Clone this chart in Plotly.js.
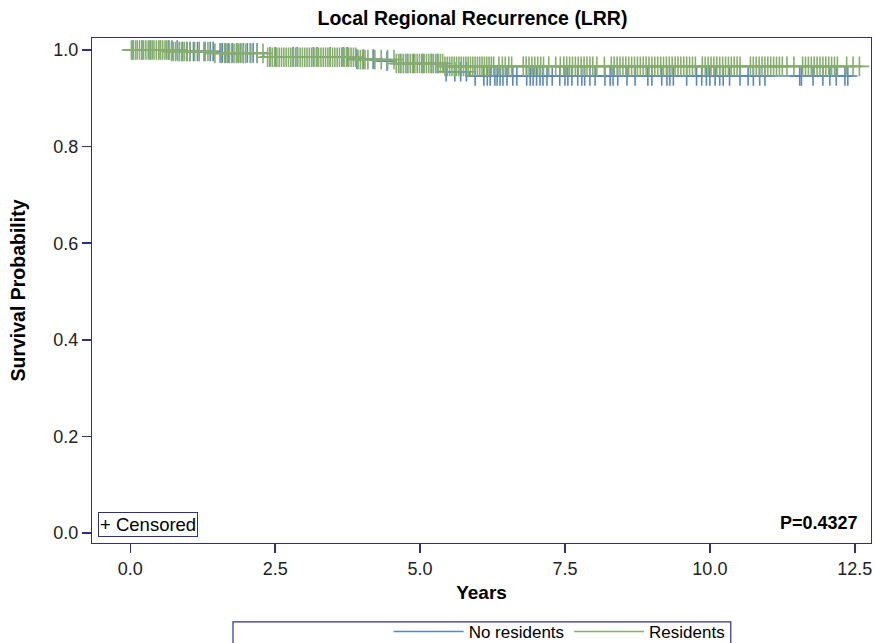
<!DOCTYPE html>
<html>
<head>
<meta charset="utf-8">
<script src="https://cdn.plot.ly/plotly-3.0.1.min.js"></script>
<style>html,body{margin:0;padding:0;background:#fff;}#chart{width:875px;height:643px;}</style>
</head>
<body>
<div id="chart"></div>
<script>
// Kaplan-Meier step data (time in years, survival probability)
const noResTimes = [0, 0.9, 1.5, 2.3, 3.75, 4.2, 4.57, 5.4, 5.85, 12.47];
const noResSurv  = [1.0, 0.997, 0.994, 0.986, 0.981, 0.977, 0.972, 0.955, 0.946, 0.946];
const resTimes   = [0, 0.7, 1.4, 2.3, 3.9, 4.57, 5.4, 12.62];
const resSurv    = [1.0, 0.997, 0.993, 0.985, 0.980, 0.972, 0.966, 0.966];

// Censoring times
const noResCensor = [0.05,0.2,0.35,0.52,0.66,0.72,0.81,0.9,0.98,1.03,1.09,1.16,1.29,1.38,1.43,1.55,1.59,1.64,1.69,1.76,1.84,1.9,1.95,2.02,2.07,2.12,2.19,2.41,2.5,2.81,2.88,3.16,3.22,3.45,3.67,3.74,3.91,4.02,4.19,4.43,4.66,4.78,4.88,5.05,5.2,5.3,5.45,5.6,5.7,5.8,5.95,6.1,6.16,6.21,6.29,6.33,6.38,6.43,6.5,6.6,6.67,6.84,6.9,6.95,7.01,7.07,7.12,7.19,7.28,7.41,7.5,7.55,7.62,7.72,7.79,7.84,7.93,8.02,8.19,8.28,8.33,8.41,8.57,8.71,8.93,9.0,9.17,9.26,9.31,9.37,9.6,9.77,9.86,9.94,10.0,10.09,10.17,10.23,10.34,10.52,10.66,10.75,10.86,10.95,11.55,11.58,11.78,11.95,12.07,12.18,12.33,12.38];
const resCensor = [0.02,0.05,0.09,0.12,0.16,0.2,0.23,0.27,0.31,0.34,0.38,0.41,0.45,0.49,0.52,0.56,0.6,0.63,0.67,0.71,0.74,0.78,0.82,0.85,0.89,0.93,0.97,
1.03,1.11,1.19,1.27,1.34,1.46,1.57,
1.63,1.67,1.71,1.75,1.79,1.83,1.87,1.91,1.95,1.99,
2.08,2.19,2.29,
2.37,2.41,2.45,2.49,2.53,2.57,2.61,2.65,2.69,2.73,2.77,2.81,2.85,2.89,2.93,2.97,3.01,3.05,3.09,3.13,3.17,3.21,3.25,3.29,3.33,3.37,3.41,3.45,3.49,3.53,3.57,3.61,3.65,3.69,3.73,3.77,3.81,3.85,3.89,3.93,3.97,4.01,4.05,4.1,
4.22,4.33,4.44,
4.55,4.59,4.63,4.67,4.71,4.75,4.79,4.83,4.87,4.91,4.95,4.99,5.03,5.07,5.11,5.15,5.19,5.23,5.27,5.31,5.35,5.39,5.43,5.47,5.51,5.55,5.59,5.63,5.67,5.71,5.75,5.79,5.83,5.87,5.91,5.95,5.99,6.03,6.07,6.11,6.15,6.19,6.23,6.27,
6.36,6.42,6.47,6.53,6.58,6.78,6.83,6.88,6.93,6.98,7.03,7.08,7.13,7.22,7.34,7.42,7.48,7.53,7.58,7.63,7.68,7.73,7.78,7.83,7.88,7.93,7.98,8.05,8.18,8.3,8.35,8.4,8.45,8.5,8.55,8.6,8.65,8.7,8.75,8.8,8.85,8.9,8.95,9.0,9.05,9.1,9.15,9.2,9.25,9.3,9.35,9.4,9.45,9.5,9.55,9.6,9.65,9.7,9.75,9.87,9.92,9.97,10.02,10.07,10.12,10.17,10.22,10.27,10.32,10.37,10.42,10.47,10.52,10.7,10.75,10.8,10.85,10.9,10.95,11.0,11.05,11.1,11.15,11.2,11.25,11.33,11.45,11.6,11.65,11.7,11.75,11.8,11.85,11.9,11.95,12.0,12.05,12.1,12.15,12.2,12.36,12.47,12.58];

const xTicks = [0, 2.5, 5, 7.5, 10, 12.5];
const yTicks = [0, 0.2, 0.4, 0.6, 0.8, 1.0];
const seriesNames = ["No residents", "Residents"];

function survAt(times, surv, t) {
  let v = surv[0];
  for (let i = 0; i < times.length; i++) { if (times[i] <= t) v = surv[i]; }
  return v;
}

const blue = '#5a86c2';
const green = '#86ad6d';
const navy = '#2e2f8e';
const font = 'Arial, "Liberation Sans", sans-serif';

const traces = [
  {x: noResTimes, y: noResSurv, type: 'scatter', mode: 'lines', line: {shape: 'hv', color: blue, width: 1.5}, name: seriesNames[0], showlegend: true},
  {x: noResCensor, y: noResCensor.map(t => survAt(noResTimes, noResSurv, t)), type: 'scatter', mode: 'markers',
   marker: {symbol: 'cross-thin', size: 14, line: {color: blue, width: 1.6}, color: blue}, showlegend: false, hoverinfo: 'skip'},
  {x: resTimes, y: resSurv, type: 'scatter', mode: 'lines', line: {shape: 'hv', color: green, width: 1.5}, name: seriesNames[1], showlegend: true},
  {x: resCensor, y: resCensor.map(t => survAt(resTimes, resSurv, t)), type: 'scatter', mode: 'markers',
   marker: {symbol: 'cross-thin', size: 14, line: {color: green, width: 1.6}, color: green}, showlegend: false, hoverinfo: 'skip'}
];

const layout = {
  width: 875, height: 643,
  margin: {l: 92, r: 4, t: 38, b: 100, autoexpand: false},
  paper_bgcolor: '#fff', plot_bgcolor: '#fff',
  font: {family: font, size: 18, color: '#000'},
  title: {text: '<b>Local Regional Recurrence (LRR)</b>', x: 0.54, xanchor: 'center', y: 0.972, yanchor: 'middle', font: {family: font, size: 19.5, color: '#000'}},
  xaxis: {
    range: [-0.66, 12.78], tickvals: xTicks, ticktext: xTicks.map(v => v.toFixed(1)),
    showgrid: false, zeroline: false, showline: true, mirror: true, linecolor: navy, linewidth: 1,
    ticks: 'outside', ticklen: 9, tickcolor: navy, tickwidth: 1.5, automargin: false,
    tickfont: {family: font, size: 18, color: '#222'},
    title: {text: '<b>Years</b>', standoff: 8, font: {family: font, size: 19, color: '#000'}}
  },
  yaxis: {
    range: [-0.0207, 1.0248], tickvals: yTicks, ticktext: yTicks.map(v => v.toFixed(1)),
    showgrid: false, zeroline: false, showline: true, mirror: true, linecolor: navy, linewidth: 1,
    ticks: 'outside', ticklen: 9, tickcolor: navy, tickwidth: 1.5, automargin: false,
    tickfont: {family: font, size: 18, color: '#222'},
    title: {text: '<b>Survival Probability</b>', standoff: 22, font: {family: font, size: 19.5, color: '#000'}}
  },
  legend: {orientation: 'h', xref: 'container', yref: 'container', x: 0.835, xanchor: 'right', y: 0.017, yanchor: 'middle',
    font: {family: font, size: 17, color: '#000'}, bgcolor: 'rgba(0,0,0,0)', borderwidth: 0, itemwidth: 70},
  shapes: [
    {type: 'rect', xref: 'paper', yref: 'paper', x0: 0.181, x1: 0.820, y0: -0.24, y1: -0.156, line: {color: navy, width: 1.2}, fillcolor: 'rgba(0,0,0,0)'}
  ],
  annotations: [
    {text: '+ Censored', xref: 'paper', yref: 'paper', x: 0.0077, y: 0.012, xanchor: 'left', yanchor: 'bottom', showarrow: false,
     font: {family: font, size: 18.5, color: '#000'}, bordercolor: navy, borderwidth: 1, borderpad: 1, bgcolor: '#fff'},
    {text: '<b>P=0.4327</b>', xref: 'paper', yref: 'paper', x: 0.986, y: 0.04, xanchor: 'right', yanchor: 'middle', showarrow: false,
     font: {family: font, size: 18, color: '#000'}}
  ]
};

Plotly.newPlot('chart', traces, layout, {staticPlot: true, displayModeBar: false});
</script>
</body>
</html>
